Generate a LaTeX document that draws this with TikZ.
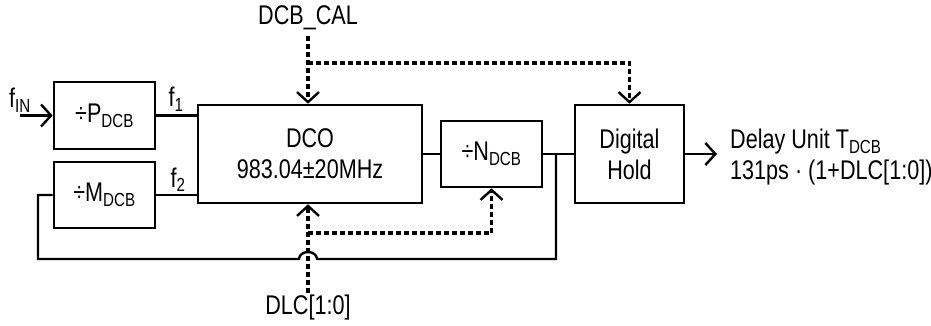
\documentclass[tikz,border=0pt]{standalone}
\usepackage{fontspec}
\setmainfont{Liberation Sans}[FakeStretch=0.8]
\usetikzlibrary{arrows.meta}

\newcommand{\sbs}[1]{\textsubscript{#1}}

\tikzset{
    blk/.style={draw, line width=2.6pt, inner sep=0pt, align=center},
    sig/.style={line width=2.4pt},
    ctl/.style={line width=3.2pt, dash pattern=on 5pt off 3pt},
    barb/.style={-{Straight Barb[length=10pt,width=22pt,line width=2.4pt]}},
    lbl/.style={inner sep=0pt}
}

\begin{document}
\begin{tikzpicture}[x=1pt, y=-1pt, font=\fontsize{27}{31}\selectfont]
    \useasboundingbox (0,0) rectangle (931,326);
    % Blocks
    \node[blk, minimum width=101, minimum height=67] (pdiv) at (104.5,115.5) {÷P\sbs{DCB}};
    \node[blk, minimum width=101, minimum height=66] (mdiv) at (104.5,195) {÷M\sbs{DCB}};
    \node[blk, minimum width=224, minimum height=98] (dco) at (310,154) {DCO\\983.04±20MHz};
    \node[blk, minimum width=101, minimum height=66] (ndiv) at (491.5,154) {÷N\sbs{DCB}};
    \node[blk, minimum width=109, minimum height=98] (hold) at (629.5,154) {Digital\\Hold};
    % Labels
    \node[lbl, anchor=base west] (fin) at (9,108) {f\sbs{IN}};
    \node[lbl, anchor=base] (fone) at (176,107) {f\sbs{1}};
    \node[lbl, anchor=base] (ftwo) at (178,187) {f\sbs{2}};
    \node[lbl] (cal) at (308,18) {DCB\_CAL};
    \node[lbl] (dlc) at (308,308) {DLC[1:0]};
    \node[lbl, anchor=west, align=left] (delay) at (730,157) {Delay Unit T\sbs{DCB}\\131ps · (1+DLC[1:0])};
    % Signal path
    \coordinate (finstart) at (20,115.5);
    \coordinate (out) at (717,154);
    \coordinate (tap) at (556,154);
    \draw[sig, barb] (finstart) -- (pdiv.west);
    \draw[sig] (pdiv.east) -- (pdiv.east -| dco.west);
    \draw[sig] (mdiv.east) -- (mdiv.east -| dco.west);
    \draw[sig] (dco.east) -- (ndiv.west);
    \draw[sig] (ndiv.east) -- (hold.west);
    \draw[sig, barb] (hold.east) -- (out);
    % Feedback loop with hop over DLC line
    \draw[sig] (mdiv.west) -- (38,195) -- (38,259) -- (299,259)
        arc[start angle=180, end angle=360, x radius=9, y radius=7] -- (tap |- 0,259) -- (tap);
    % Control lines
    \coordinate (calsplit) at (308,63);
    \coordinate (dlcsplit) at (308,233);
    \draw[ctl, barb] (cal.south) ++(0,6) -- (cal.south |- dco.north);
    \draw[ctl, barb] (calsplit) -| (hold.north);
    \draw[ctl, barb] (dlc.north) ++(0,-2) -- (dlc.north |- dco.south);
    \draw[ctl, barb] (dlcsplit) -| (ndiv.south);
\end{tikzpicture}
\end{document}
